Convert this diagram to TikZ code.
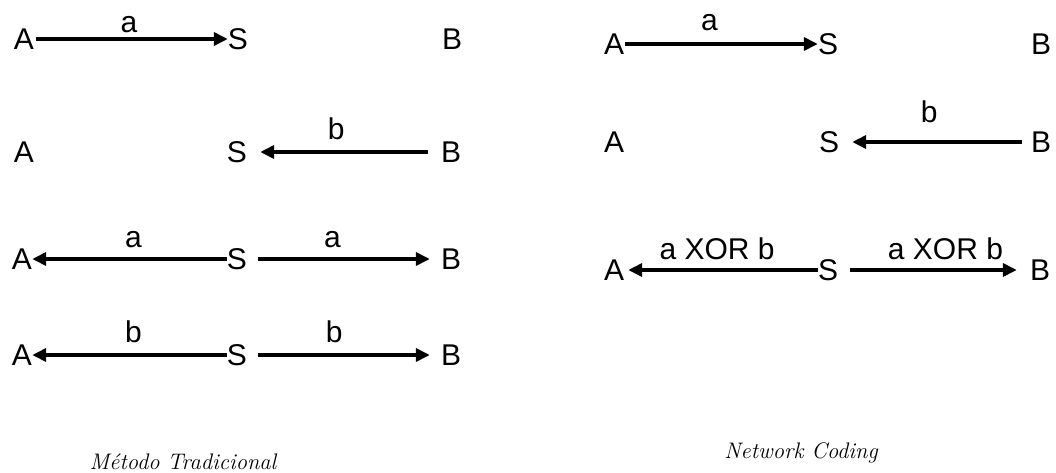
\documentclass[tikz,border=0pt]{standalone}
\usepackage{fontspec}
\newfontfamily\arialish{Liberation Sans}
\usetikzlibrary{arrows.meta}
\begin{document}
\begin{tikzpicture}[x=1pt,y=-1pt,
  letter/.style={inner sep=0pt, font=\arialish\fontsize{30}{36}\selectfont},
  lbl/.style={inner sep=0pt, font=\arialish\fontsize{30}{36}\selectfont},
  conn/.style={line width=4pt, -{Triangle[length=14pt,width=13pt]}},
  caption/.style={inner sep=0pt, anchor=base, font=\itshape\fontsize{22.5}{27}\selectfont}]
\useasboundingbox[fill=white] (0,0) rectangle (1056,472);
% ---------- left panel ----------
\node[letter] (lA1) at (24,39) {A};
\node[letter] (lS1) at (238,39) {S};
\node[letter] (lB1) at (452,39) {B};
\draw[conn, shorten <=2pt] (lA1) -- node[lbl, pos=0.49, above=4pt] {a} (lS1);

\node[letter] (lA2) at (24,152) {A};
\node[letter] (lS2) at (237,152) {S};
\node[letter] (lB2) at (451,152) {B};
\draw[conn, shorten <=13pt, shorten >=13pt] (lB2) -- node[lbl, pos=0.54, above=10pt] {b} (lS2);

\node[letter] (lA3) at (22,259) {A};
\node[letter] (lS3) at (237,259) {S};
\node[letter] (lB3) at (451,259) {B};
\draw[conn] (lS3) -- node[lbl, pos=0.48, above=9pt] {a} (lA3);
\draw[conn, shorten <=11pt, shorten >=11pt] (lS3) -- node[lbl, pos=0.44, above=9pt] {a} (lB3);

\node[letter] (lA4) at (22,355) {A};
\node[letter] (lS4) at (237,355) {S};
\node[letter] (lB4) at (451,355) {B};
\draw[conn] (lS4) -- node[lbl, pos=0.48, above=10pt] {b} (lA4);
\draw[conn, shorten <=11pt, shorten >=11pt] (lS4) -- node[lbl, pos=0.45, above=10pt] {b} (lB4);

\node[caption] (capL) at (183,469) {Método Tradicional};
% ---------- right panel ----------
\node[letter] (rA1) at (614,44) {A};
\node[letter] (rS1) at (828,44) {S};
\node[letter] (rB1) at (1041,44) {B};
\draw[conn, shorten <=1pt] (rA1) -- node[lbl, pos=0.44, above=11pt] {a} (rS1);

\node[letter] (rA2) at (614,142) {A};
\node[letter] (rS2) at (829,142) {S};
\node[letter] (rB2) at (1041,142) {B};
\draw[conn, shorten <=9pt, shorten >=13pt] (rB2) -- node[lbl, pos=0.53, above=17pt] {b} (rS2);

\node[letter] (rA3) at (614,270) {A};
\node[letter] (rS3) at (828,270) {S};
\node[letter] (rB3) at (1040,270) {B};
\draw[conn, shorten >=4pt] (rS3) -- node[lbl, pos=0.52, above=8pt] {a XOR b} (rA3);
\draw[conn, shorten <=12pt, shorten >=13pt] (rS3) -- node[lbl, pos=0.56, above=8pt] {a XOR b} (rB3);

\node[caption] (capR) at (801,458) {Network Coding};
\end{tikzpicture}
\end{document}
